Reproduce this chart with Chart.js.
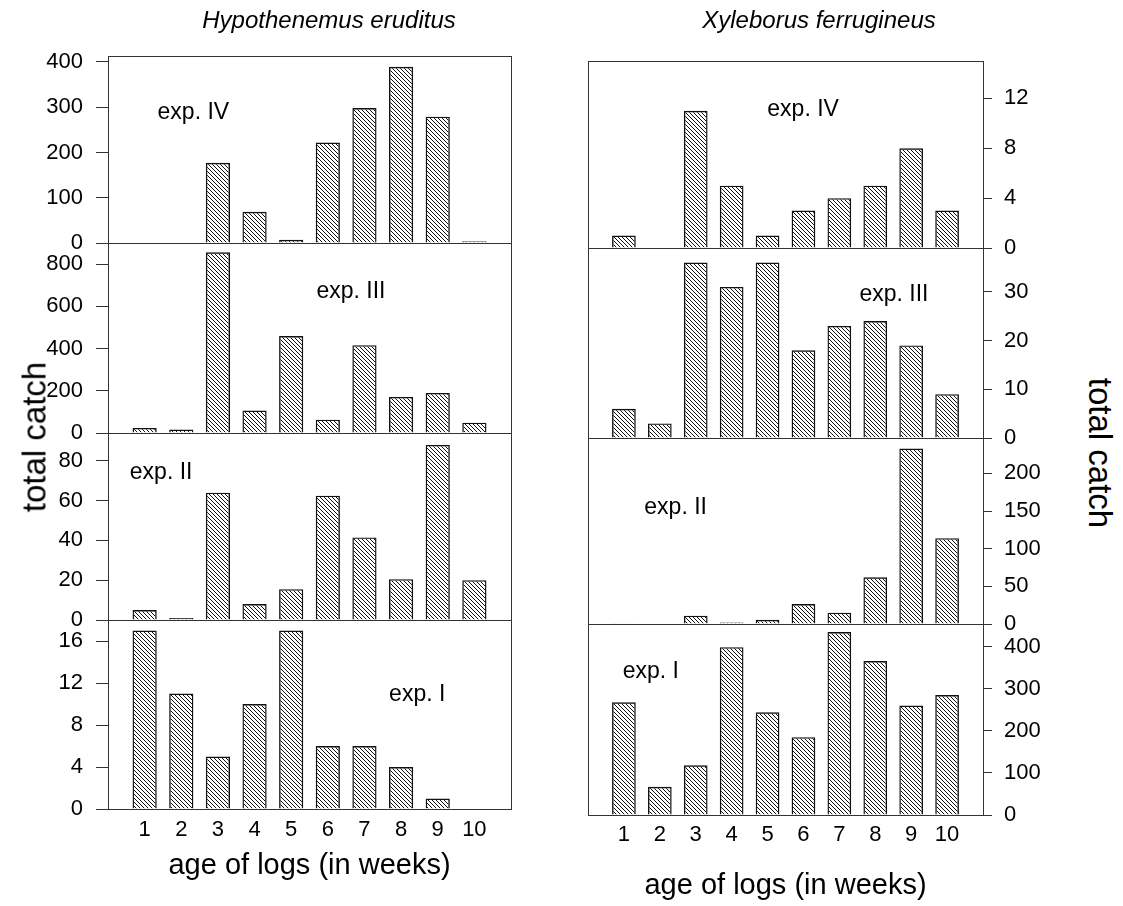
<!DOCTYPE html>
<html>
<head>
<meta charset="utf-8">
<script src="https://cdn.jsdelivr.net/npm/chart.js@4.4.1/dist/chart.umd.min.js"></script>
<style>
html, body { margin: 0; padding: 0; background: #fff; }
body { width: 1123px; height: 906px; position: relative; overflow: hidden;
       font-family: 'Liberation Sans', Arial, Helvetica, sans-serif; color: #000; }
canvas { position: absolute; }
.txt { position: absolute; white-space: nowrap; line-height: 1; }
</style>
</head>
<body>
<script>
// ---------------- data ----------------
const weeks = ['1', '2', '3', '4', '5', '6', '7', '8', '9', '10'];
const species = ['Hypothenemus eruditus', 'Xyleborus ferrugineus'];
const experiments = ['exp. IV', 'exp. III', 'exp. II', 'exp. I'];
const yTitle = 'total catch';
const xTitle = 'age of logs (in weeks)';

// Hypothenemus eruditus (left column), panels top to bottom
const eruditusExpIV  = [0, 0, 177, 69, 7, 222, 298, 389, 279, 4];
const eruditusExpIII = [24, 16, 856, 106, 459, 63, 416, 171, 190, 49];
const eruditusExpII  = [5, 1, 64, 8, 15.5, 62.5, 41.5, 20.5, 88, 20];
const eruditusExpI   = [17, 11, 5, 10, 17, 6, 6, 4, 1, 0];

// Xyleborus ferrugineus (right column), panels top to bottom
const ferrugineusExpIV  = [1, 0, 11, 5, 1, 3, 4, 5, 8, 3];
const ferrugineusExpIII = [6, 3, 36, 31, 36, 18, 23, 24, 19, 9];
const ferrugineusExpII  = [1, 0, 11, 2, 5.5, 26.5, 15, 62, 233, 114];
const ferrugineusExpI   = [268, 67, 118, 399, 244, 185, 435, 366, 260, 285];

// y-axis tick steps and axis maxima per panel
const eruditusSteps = [100, 200, 20, 4];
const eruditusMax   = [413, 900, 94, 18];
const ferrugineusSteps = [4, 10, 50, 100];
const ferrugineusMax   = [15, 39, 247, 454];

// ---------------- layout ----------------
const PAGE_H = 906;
const PAD = 32;
const colL = { canvasLeft: 0, canvasWidth: 530, areaLeft: 108, areaRight: 511, side: 'left',
               tickLen: 12, tickPad: 13, xLabelPad: 8, xTitlePad: 22.6 };
const colR = { canvasLeft: 570, canvasWidth: 480, areaLeft: 588, areaRight: 983, side: 'right',
               tickLen: 9, tickPad: 12, xLabelPad: 7, xTitlePad: 2.6 };
const rowsL = [[56, 243], [243, 433], [433, 620], [620, 809]];
const rowsR = [[61, 248], [248, 438], [438, 624], [624, 815]];
// experiment label anchors in data coordinates (x in weeks, y in catch units)
const labelAtL = [[2.33, 288], [6.63, 669], [1.45, 74], [8.44, 10.86]];
const labelAtR = [[5.99, 11.07], [8.52, 29.35], [2.44, 154], [1.75, 340.6]];

Chart.defaults.font.family = "'Liberation Sans', Arial, Helvetica, sans-serif";
Chart.defaults.color = '#000';

const framePlugin = {
  id: 'frame',
  beforeDatasetsDraw(chart) {
    const { ctx, chartArea: a } = chart;
    ctx.save();
    ctx.strokeStyle = '#333';
    ctx.lineWidth = 1;
    ctx.strokeRect(Math.round(a.left) + 0.5, Math.round(a.top) + 0.5,
                   Math.round(a.right - a.left), Math.round(a.bottom - a.top));
    ctx.restore();
  }
};

const expLabelPlugin = {
  id: 'expLabel',
  afterDatasetsDraw(chart, args, opts) {
    if (!opts || !opts.text) return;
    const { ctx } = chart;
    const xs = chart.scales.x, ys = chart.scales.y;
    ctx.save();
    ctx.font = "23px 'Liberation Sans', Arial, sans-serif";
    ctx.fillStyle = '#000';
    ctx.textAlign = 'center';
    ctx.textBaseline = 'middle';
    ctx.fillText(opts.text, xs.getPixelForValue(opts.at[0]), ys.getPixelForValue(opts.at[1]));
    ctx.restore();
  }
};

function makeHatch(ctx) {
  const c = document.createElement('canvas');
  c.width = 4; c.height = 4;
  const g = c.getContext('2d');
  g.strokeStyle = '#111';
  g.lineWidth = 1;
  g.beginPath();
  for (const k of [-4, 0, 4]) { g.moveTo(k, 0); g.lineTo(k + 4, 4); }
  g.stroke();
  return ctx.createPattern(c, 'repeat');
}

function panel(col, row, values, max, step, label, at, isBottom) {
  const [T, B] = row;
  const top = T - PAD;
  const h = isBottom ? (PAGE_H - top) : (B - T + 2 * PAD);
  const cv = document.createElement('canvas');
  cv.width = col.canvasWidth; cv.height = h;
  cv.style.left = col.canvasLeft + 'px';
  cv.style.top = top + 'px';
  cv.style.width = col.canvasWidth + 'px';
  cv.style.height = h + 'px';
  document.body.appendChild(cv);
  const ctx = cv.getContext('2d');
  const left = col.side === 'left';
  const yWidth = left ? col.areaLeft - col.canvasLeft : col.canvasLeft + col.canvasWidth - col.areaRight;
  const padL = left ? 0 : col.areaLeft - col.canvasLeft;
  const padR = left ? col.canvasLeft + col.canvasWidth - col.areaRight : 0;
  new Chart(ctx, {
    type: 'bar',
    data: {
      datasets: [{
        data: values.map((v, i) => ({ x: i + 1, y: v })),
        backgroundColor: makeHatch(ctx),
        borderColor: '#111',
        borderWidth: 1.4,
        barPercentage: 0.66,
        categoryPercentage: 1
      }]
    },
    options: {
      responsive: false, animation: false, events: [], devicePixelRatio: 1,
      layout: { padding: { top: PAD, bottom: isBottom ? 0 : PAD, left: padL, right: padR } },
      plugins: {
        legend: { display: false },
        tooltip: { enabled: false },
        expLabel: { text: label, at: at }
      },
      scales: {
        x: {
          type: 'linear', min: 0, max: 11, offset: false, display: isBottom,
          afterFit: s => { if (isBottom) s.height = PAGE_H - B; },
          ticks: {
            stepSize: 1, autoSkip: false, maxRotation: 0, minRotation: 0, includeBounds: false,
            padding: col.xLabelPad, font: { size: 22 }, color: '#000',
            callback: v => (v >= 1 && v <= weeks.length) ? weeks[v - 1] : ''
          },
          grid: { display: false, drawTicks: false },
          border: { display: false },
          title: { display: isBottom, text: xTitle, font: { size: 29 }, color: '#000',
                   padding: { top: 0, bottom: col.xTitlePad } }
        },
        y: {
          position: col.side, min: 0, max: max,
          afterFit: s => { s.width = yWidth; },
          ticks: { stepSize: step, includeBounds: false, padding: col.tickPad,
                   font: { size: 22 }, color: '#000' },
          grid: { display: true, drawOnChartArea: false, drawTicks: true,
                  tickLength: col.tickLen, color: '#333', lineWidth: 1 },
          border: { display: true, color: '#333', width: 1 }
        }
      }
    },
    plugins: [framePlugin, expLabelPlugin]
  });
}

const eruditusSeries = [eruditusExpIV, eruditusExpIII, eruditusExpII, eruditusExpI];
const ferrugineusSeries = [ferrugineusExpIV, ferrugineusExpIII, ferrugineusExpII, ferrugineusExpI];

for (let i = 0; i < 4; i++) {
  panel(colL, rowsL[i], eruditusSeries[i], eruditusMax[i], eruditusSteps[i], experiments[i], labelAtL[i], i === 3);
  panel(colR, rowsR[i], ferrugineusSeries[i], ferrugineusMax[i], ferrugineusSteps[i], experiments[i], labelAtR[i], i === 3);
}

// ---------------- HTML text ----------------
function addText(text, css) {
  const d = document.createElement('div');
  d.className = 'txt';
  d.textContent = text;
  Object.assign(d.style, css);
  document.body.appendChild(d);
}
addText(species[0], { left: '329px', top: '8px', fontSize: '24px', fontStyle: 'italic', transform: 'translateX(-50%)' });
addText(species[1], { left: '819px', top: '8px', fontSize: '24px', fontStyle: 'italic', transform: 'translateX(-50%)' });
addText(yTitle, { left: '34px', top: '437px', fontSize: '33px', transform: 'translate(-50%, -50%) rotate(-90deg)' });
addText(yTitle, { left: '1100px', top: '453px', fontSize: '33px', transform: 'translate(-50%, -50%) rotate(90deg)' });
</script>
</body>
</html>
